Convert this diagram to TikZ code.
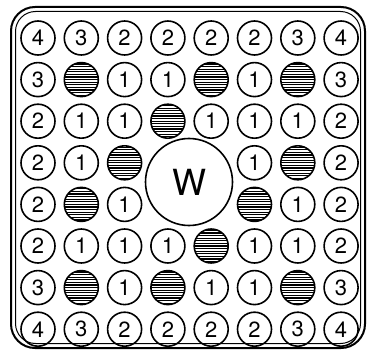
\documentclass[tikz,border=0pt]{standalone}
\usepackage{fontspec}
\setmainfont{TeX Gyre Heros}
\begin{document}
\begin{tikzpicture}[x=1pt,y=-1pt,
  numc/.style={circle, draw, line width=1.6pt, minimum size=34pt, inner sep=0pt, font=\fontsize{22}{22}\selectfont},
  hatc/.style={circle, draw, line width=1.6pt, minimum size=34pt, inner sep=0pt,
    path picture={\foreach \k in {-7,...,7}{\draw[line width=1.2pt] ([yshift=\k*2.6pt]path picture bounding box.west) -- ([yshift=\k*2.6pt]path picture bounding box.east);}}},
  bigc/.style={circle, draw, line width=1.6pt, minimum size=87pt, inner sep=0pt, font=\fontsize{36}{36}\selectfont}]
\useasboundingbox (0,0) rectangle (367,350);
\draw[line width=2pt, rounded corners=24pt] (11,7) rectangle (365,348);
\draw[line width=1pt, rounded corners=20pt] (15.5,11.5) rectangle (360.5,343.5);
\foreach \row [count=\i] in {{4,3,2,2,2,2,3,4},{3,0,1,1,0,1,0,3},{2,1,1,0,1,1,1,2},{2,1,0,9,9,1,0,2},{2,0,1,9,9,0,1,2},{2,1,1,1,0,1,1,2},{3,0,1,0,1,1,0,3},{4,3,2,2,2,2,3,4}}{
  \foreach \v [count=\j] in \row {
    \ifnum\v=0
      \node[hatc] (c\i\j) at ({38+43.3*(\j-1)},{38+41.6*(\i-1)}) {};
    \else\ifnum\v<9
      \node[numc] (c\i\j) at ({38+43.3*(\j-1)},{38+41.6*(\i-1)}) {\v};
    \fi\fi
  }
}
\node[bigc] (w) at (189,182) {W};
\end{tikzpicture}
\end{document}
